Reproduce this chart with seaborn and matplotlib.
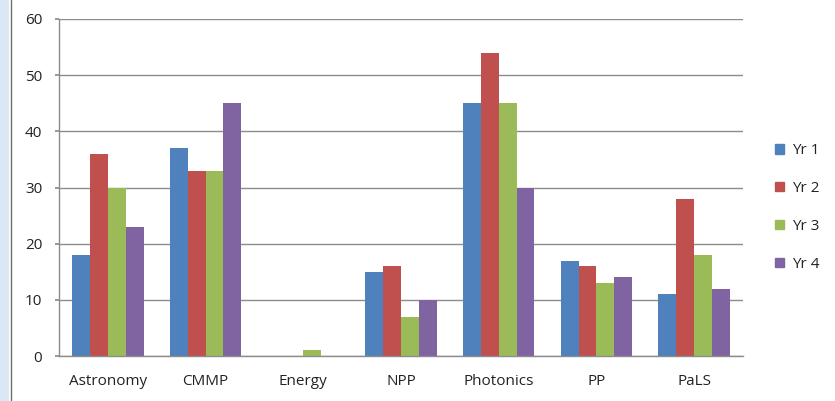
import matplotlib
matplotlib.use("Agg")
import matplotlib.pyplot as plt
import seaborn as sns
import pandas as pd
from matplotlib.patches import Rectangle
from matplotlib.lines import Line2D

categories = ["Astronomy", "CMMP", "Energy", "NPP", "Photonics", "PP", "PaLS"]
series = ["Yr 1", "Yr 2", "Yr 3", "Yr 4"]
yr1 = [18, 37, 0, 15, 45, 17, 11]
yr2 = [36, 33, 0, 16, 54, 16, 28]
yr3 = [30, 33, 1, 7, 45, 13, 18]
yr4 = [23, 45, 0, 10, 30, 14, 12]
colors = ["#4F81BD", "#C0504D", "#9BBB59", "#8064A2"]
yticks = [0, 10, 20, 30, 40, 50, 60]

rows = []
for s, vals in zip(series, [yr1, yr2, yr3, yr4]):
    for c, v in zip(categories, vals):
        rows.append({"Category": c, "Series": s, "Value": v})
df = pd.DataFrame(rows)

sns.set_theme(style="white")
plt.rcParams['font.family'] = ['Open Sans', 'DejaVu Sans']

fig = plt.figure(figsize=(8.35, 4.01), dpi=100)
ax = fig.add_axes([59/835, 1 - 356/401, (743-59)/835, (356-19)/401])

sns.barplot(data=df, x="Category", y="Value", hue="Series", palette=colors,
            width=0.73, gap=0, saturation=1, ax=ax, legend=False, errorbar=None,
            linewidth=0, edgecolor="none")

ax.set_ylim(0, 60)
ax.set_yticks(yticks)
ax.set_xlim(-0.5, len(categories) - 0.5)
ax.yaxis.grid(True, color="#8c8c8c", linewidth=1)
ax.set_axisbelow(True)
ax.set_xlabel("")
ax.set_ylabel("")
for sp in ["top", "right"]:
    ax.spines[sp].set_visible(False)
for sp in ["left", "bottom"]:
    ax.spines[sp].set_color("#8c8c8c")
    ax.spines[sp].set_linewidth(1)
ax.tick_params(axis="y", length=3, color="#8c8c8c", pad=9, labelsize=11, labelcolor="#222222", left=True)
ax.tick_params(axis="x", length=0, pad=13, labelsize=11, labelcolor="#222222")

handles = [Rectangle((0, 0), 1, 1, color=c) for c in colors]
fig.legend(handles, series, loc="upper left", bbox_to_anchor=(769/835, 1 - 137/401),
           frameon=False, fontsize=11, handlelength=0.6, handleheight=0.6,
           labelspacing=1.5, handletextpad=0.5, borderaxespad=0, labelcolor="#222222")

# left window-edge decoration
fig.patches.append(Rectangle((0, 0), 9/835, 1, transform=fig.transFigure,
                             facecolor="#dbe7f5", edgecolor="none", zorder=-1))
fig.lines.append(Line2D([10.5/835, 10.5/835], [0, 1], transform=fig.transFigure,
                        color="#6e6e6e", linewidth=1))

fig.savefig("out.png", dpi=100)
